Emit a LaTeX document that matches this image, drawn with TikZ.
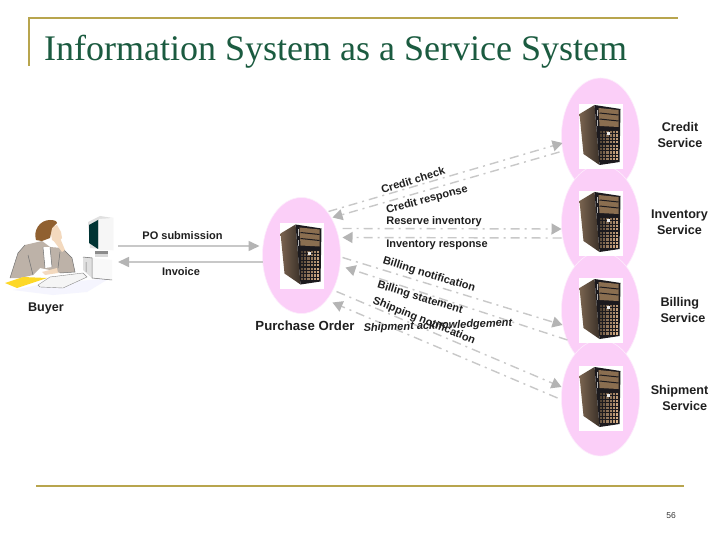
\documentclass[tikz,border=0pt]{standalone}
\usepackage{fontspec}
\setmainfont{Liberation Sans}
\newfontfamily\ttlfont{Liberation Serif}
\usetikzlibrary{shapes.geometric,arrows.meta,calc}
\definecolor{gold}{HTML}{B8A54E}
\definecolor{ttl}{HTML}{1B5B40}
\definecolor{pinkish}{HTML}{FBCFF8}
\definecolor{conn}{HTML}{C8C8C8}
\definecolor{tip}{HTML}{B4B4B4}
\definecolor{tan1}{HTML}{8A6E50}
\definecolor{tan2}{HTML}{D8B088}
\definecolor{side1}{HTML}{7A6450}
\definecolor{side2}{HTML}{3A3028}
\definecolor{front}{HTML}{1C1A1E}
\definecolor{skin}{HTML}{F3D9BE}
\definecolor{jacket}{HTML}{BDB2A8}
\tikzset{
  x=1pt,y=-1pt,
  blob/.style={ellipse,fill=pinkish,draw=white!60!pinkish,line width=.6pt,minimum width=78pt,minimum height=116pt,inner sep=0pt},
  lbl/.style={font=\fontsize{12.6}{16}\selectfont\bfseries,text=black!88,inner sep=0pt,align=center},
  plbl/.style={font=\fontsize{11}{12}\selectfont\bfseries,text=black!88,inner sep=0pt},
  tlbl/.style={font=\fontsize{11}{12}\selectfont\bfseries,text=black!88,inner sep=0pt},
  link/.style={draw=conn,line width=1.4pt,dash pattern=on 9pt off 5pt on 2pt off 5pt,
     -{Triangle[length=10pt,width=11pt,fill=tip,color=tip,sep=0pt]}},
  solidlink/.style={draw=conn,line width=1.6pt,-{Triangle[length=11pt,width=10pt,fill=tip,color=tip]}},
  rule/.style={draw=gold,line width=2pt},
  server/.pic={
    \fill[white] (-22,-32) rectangle (22.5,33);
    \shade[left color=side1,right color=side2] (-21,-22) -- (-6,-31) -- (-1,29) -- (-17,18) -- cycle;
    \fill[front] (-6,-31) -- (20,-27) -- (19,26) -- (-1,29) -- cycle;
    \fill[tan1] (-2,-28) -- (18,-26) -- (18,-9) -- (-1,-10) -- cycle;
    \draw[front,line width=1pt] (-1,-23) -- (18,-21) (-1,-17) -- (18,-15);
    \fill[black!25] (-4,-26) rectangle (-2.5,-20);
    \fill[black!30] (-4,-16) rectangle (-2.5,-10);
    \foreach \i in {0,...,5}{\foreach \j in {0,...,8}{
      \pgfmathsetmacro{\mx}{35+\i*10+\j*2}
      \fill[tan2!\mx!black] (-.5+\i*3.2,-5+\j*3.4) rectangle ++(2.2,2.3);}}
    \fill[white!85!gray] (6,-4) rectangle (9,-1);
  }
}
\begin{document}
\begin{tikzpicture}
\useasboundingbox (0,0) rectangle (720,540);
\fill[white] (0,0) rectangle (720,540);
% frame rules
\coordinate (tl) at (29,18);
\coordinate (tr) at (678,18);
\coordinate (lb) at (29,66);
\coordinate (bl) at (36,486);
\coordinate (br) at (684,486);
\draw[rule] (lb) -- (tl) -- (tr);
\draw[rule] (bl) -- (br);
\node[anchor=base west,text=ttl,inner sep=0pt,font=\ttlfont\fontsize{36}{38}\selectfont] (title) at (44,60.5) {Information System as a Service System};
\node[font=\fontsize{8.5}{10}\selectfont,text=black!80,inner sep=0pt] (page) at (671,516) {56};
% blobs
\node[blob] (cr) at (600.5,136) {};
\node[blob] (iv) at (600.5,223) {};
\node[blob] (bi) at (600.5,310) {};
\node[blob] (sh) at (600.5,398) {};
\node[blob] (po) at (301.5,255.5) {};
\pic at (cr) {server};
\pic at (iv) {server};
\pic at (bi) {server};
\pic at (sh) {server};
\pic at (po) {server};
% buyer clip art
\node[inner sep=0pt,minimum size=1pt] (buyer) at (60,262) {};
\fill[black!10!blue!4!white] (13,290) -- (38,285) -- (110,278) -- (87,292) -- (53,295) -- cycle;
% computer
\fill[black!12] (88,222) -- (100,216) -- (113,218) -- (113,250) -- (90,248) -- cycle;
\fill[white!93!gray] (99,219) -- (113,218) -- (113,250) -- (99,250) -- cycle;
\fill[black!60!teal] (89,225) -- (98,220) -- (98,249) -- (89,243) -- cycle;
\fill[black!45] (95,251) rectangle (108,254);
\fill[black!15] (95,254) rectangle (108,257);
\fill[black!12] (83,257) -- (92,257) -- (92,278) -- (83,270) -- cycle;
\fill[white!95!gray] (92,258) -- (112,260) -- (112,280) -- (92,278) -- cycle;
\draw[black!55,line width=.5pt] (83,257) -- (92,258) -- (92,278) -- (112,280) (86,262) -- (86,272);
% woman
\fill[jacket] (10,278) -- (18,253) -- (25,245) -- (42,241) -- (50,247) -- (62,248) -- (72,258) -- (75,272) -- (60,273) -- (50,270) -- (40,268) -- (33,275) -- (20,278) -- cycle;
\fill[white] (43,247) -- (50,247) -- (52,267) -- (45,268) -- cycle;
\draw[black!55,line width=.5pt] (10,278) -- (18,253) -- (25,245) (28,255) -- (33,275) (43,247) -- (45,268) (50,247) -- (52,267) (62,248) -- (72,258) -- (75,272) -- (60,273) (60,252) -- (58,268);
\fill[skin] (50,228) -- (57,225) -- (61,232) -- (62,238) -- (57,243) -- (52,240) -- cycle;
\fill[brown!75!black] (36,240) .. controls (33,230) and (40,220) .. (50,220) .. controls (54,220) and (57,221) .. (57,223) -- (52,228) -- (50,238) -- (42,241) -- cycle;
\fill[skin] (53,240) -- (60,238) -- (65,250) -- (62,252) -- cycle;
\fill[skin] (42,272) -- (57,268) -- (58,273) -- (45,275) -- cycle;
% paper, keyboard
\fill[yellow!70!orange!85] (5,283) -- (23,277) -- (47,278) -- (17,288) -- cycle;
\fill[white!92!gray] (38,285) -- (50,277) -- (83,273) -- (87,277) -- (63,288) -- (40,287) -- cycle;
\draw[black!45,line width=.4pt] (38,285) -- (50,277) -- (83,273) -- (87,277) -- (63,288) -- (40,287) -- cycle;
% labels
\node[lbl] (lbuyer) at (46,308.5) {Buyer};
\node[lbl,font=\fontsize{13.2}{16}\selectfont\bfseries] (lpo) at (305,326) {Purchase Order};
\node[lbl] at (680,135) (lcr) {Credit\\Service};
\node[lbl] at (679.5,222) (liv) {Inventory\\Service};
\node[lbl,align=left] at (683,310) (lbi) {Billing\\Service};
\node[lbl] at (679.5,398) (lsh) {Shipment\\\ \ \ Service};
% connectors
\draw[solidlink] ($(buyer)+(58,-16)$) -- ($(po)+(-42,-9.5)$);
\draw[solidlink] ($(po)+(-39,6.5)$) -- ($(buyer)+(58,0)$);
\draw[link] ($(po)+(27,-44)$) -- ($(cr)+(-38,7)$);
\draw[link] ($(cr)+(-41,16)$) -- ($(po)+(31,-38)$);
\draw[link] ($(po)+(41,-27)$) -- ($(iv)+(-39,6)$);
\draw[link] ($(iv)+(-39,15)$) -- ($(po)+(41,-18)$);
\draw[link] ($(po)+(41,2)$) -- ($(bi)+(-38,15)$);
\draw[link] ($(bi)+(-33,30)$) -- ($(po)+(44,12)$);
\draw[link] ($(po)+(35,36)$) -- ($(sh)+(-39,-11)$);
\draw[link] ($(sh)+(-43,0)$) -- ($(po)+(31,47)$);
% connector labels
\node[plbl] (lposub) at (182.5,236) {PO submission};
\node[plbl] (linv) at (181,272) {Invoice};
\node[tlbl,rotate=17] (l1) at (413,180) {Credit check};
\node[tlbl,rotate=15] (l2) at (427,200) {Credit response};
\node[tlbl] (l3) at (434,222) {Reserve inventory};
\node[tlbl] (l4) at (437,245) {Inventory response};
\node[tlbl,rotate=-17] (l5) at (429,275) {Billing notification};
\node[tlbl,rotate=-17] (l6) at (420,298) {Billing statement};
\node[tlbl,rotate=-22] (l7) at (424,321) {Shipping notification};
\node[tlbl,rotate=2,font=\fontsize{11}{12}\selectfont\bfseries\itshape] (l8) at (438,326) {Shipment acknowledgement};
\end{tikzpicture}
\end{document}
